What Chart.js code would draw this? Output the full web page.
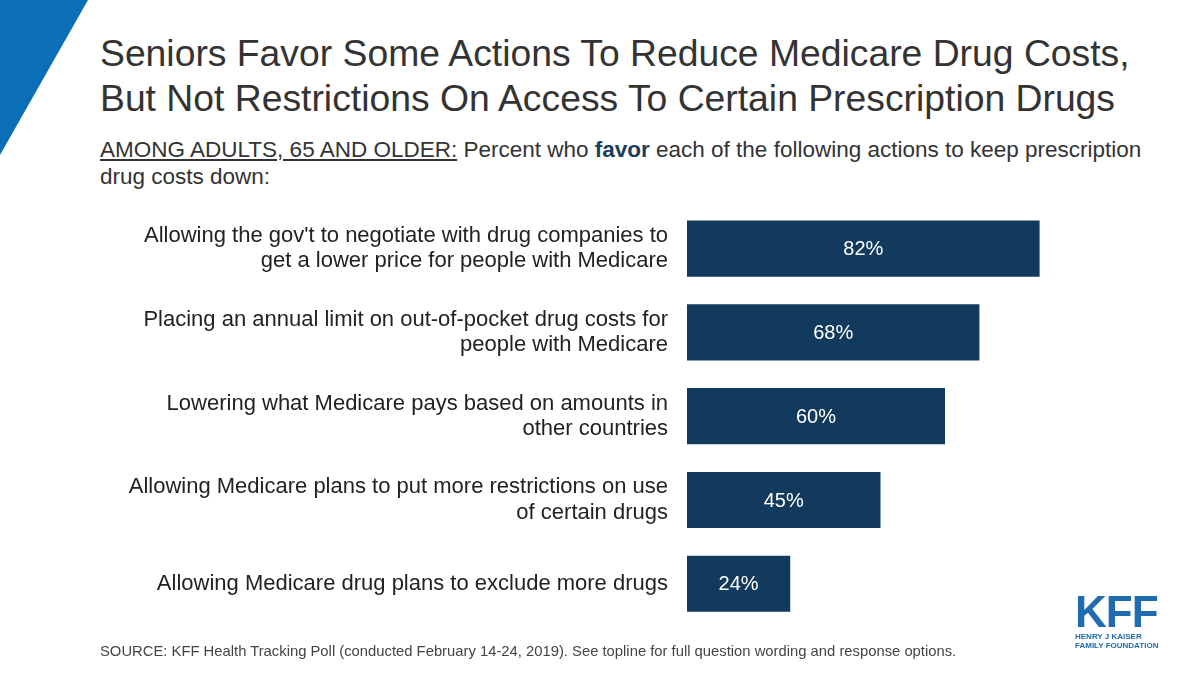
<!DOCTYPE html>
<html>
<head>
<meta charset="utf-8">
<script src="https://cdn.jsdelivr.net/npm/chart.js@4"></script>
<style>
  body { margin: 0; width: 1200px; height: 675px; background: #fff; position: relative; overflow: hidden; font-family: "Liberation Sans", Arial, sans-serif; }
  .tri { position: absolute; left: 0; top: 0; width: 0; height: 0; border-top: 155px solid #0a6fb7; border-right: 88px solid transparent; }
  h1 { position: absolute; left: 100px; top: 31px; margin: 0; font-weight: normal; font-size: 37.3px; line-height: 45px; color: #333; white-space: nowrap; }
  .sub { position: absolute; left: 100px; top: 136px; width: 1060px; font-size: 22.5px; line-height: 27px; color: #333; }
  .sub u { text-decoration: underline; }
  .sub b { color: #1a3d5c; }
  .wrap { position: absolute; left: 0; top: 182.5px; width: 1200px; height: 479px; }
  .src { position: absolute; left: 100px; top: 643px; font-size: 14.8px; color: #444; }
  .logo { position: absolute; left: 1075px; top: 592px; color: #1f6cb0; }
  .logo .k { font-size: 44px; font-weight: bold; line-height: 40px; letter-spacing: -1px; }
  .logo .s { font-size: 8px; line-height: 9px; font-weight: bold; }
</style>
</head>
<body>
<div class="tri"></div>
<h1>Seniors Favor Some Actions To Reduce Medicare Drug Costs,<br>But Not Restrictions On Access To Certain Prescription Drugs</h1>
<div class="sub"><u>AMONG ADULTS, 65 AND OLDER:</u> Percent who <b>favor</b> each of the following actions to keep prescription drug costs down:</div>
<div class="wrap"><canvas id="chart"></canvas></div>
<div class="src">SOURCE: KFF Health Tracking Poll (conducted February 14-24, 2019). See topline for full question wording and response options.</div>
<div class="logo"><div class="k">KFF</div><div class="s">HENRY J KAISER<br>FAMILY FOUNDATION</div></div>
<script>
const categories = [
    ["Allowing the gov't to negotiate with drug companies to", "get a lower price for people with Medicare"],
    ["Placing an annual limit on out-of-pocket drug costs for", "people with Medicare"],
    ["Lowering what Medicare pays based on amounts in", "other countries"],
    ["Allowing Medicare plans to put more restrictions on use", "of certain drugs"],
    "Allowing Medicare drug plans to exclude more drugs"
];
const favorValues = [82, 68, 60, 45, 24];

const barLabels = {
    id: 'barLabels',
    afterDatasetsDraw(chart) {
        const ctx = chart.ctx;
        ctx.save();
        ctx.fillStyle = '#fff';
        ctx.font = '20px "Liberation Sans", Arial, sans-serif';
        ctx.textAlign = 'center';
        ctx.textBaseline = 'middle';
        chart.getDatasetMeta(0).data.forEach((bar, i) => {
            ctx.fillText(favorValues[i] + '%', (bar.base + bar.x) / 2, bar.y + 1);
        });
        ctx.restore();
    }
};

new Chart(document.getElementById('chart').getContext('2d'), {
    type: 'bar',
    data: {
        labels: categories,
        datasets: [{
            data: favorValues,
            backgroundColor: '#123a5c',
            categoryPercentage: 1,
            barPercentage: 0.67
        }]
    },
    options: {
        indexAxis: 'y',
        responsive: true,
        maintainAspectRatio: false,
        animation: false,
        layout: { padding: { right: 83, top: 0, bottom: 0 } },
        plugins: { legend: { display: false }, tooltip: { enabled: false } },
        scales: {
            x: { min: 0, max: 100, display: false },
            y: {
                grid: { display: false },
                border: { display: false },
                afterFit(scale) { scale.width = 687; },
                ticks: {
                    padding: 11,
                    color: '#222',
                    font: { size: 22, family: '"Liberation Sans", Arial, sans-serif', lineHeight: 1.15 }
                }
            }
        }
    },
    plugins: [barLabels]
});
</script>
</body>
</html>
